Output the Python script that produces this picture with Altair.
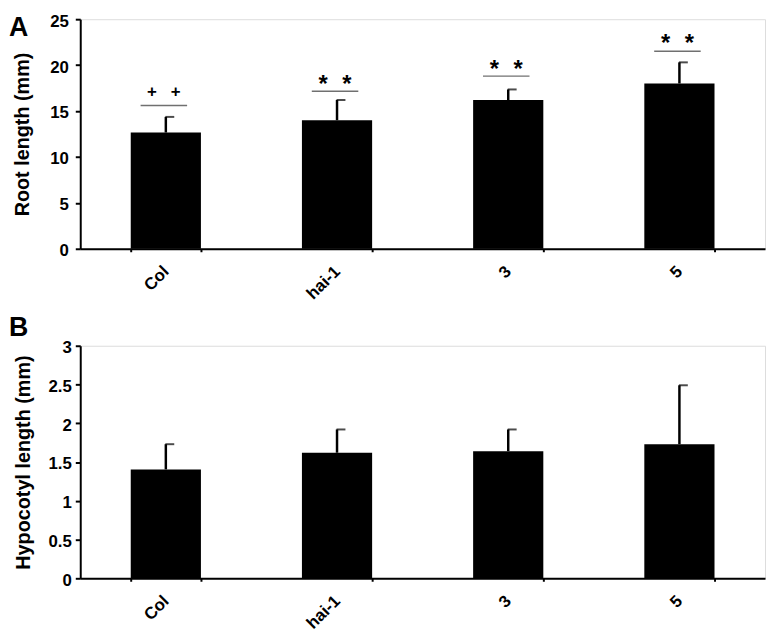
import altair as alt
import pandas as pd

# ---- data ----
categories = ["Col", "hai-1", "3", "5"]

root_mean = [12.66, 14.0, 16.2, 18.0]
root_err = [1.7, 2.2, 1.15, 2.3]
root_sig_line = [15.6, 17.15, 18.8, 21.5]
root_sig_mark = [17.05, 18.5, 20.1, 22.9]
root_sig_symbol = ["+", "*", "*", "*"]
root_ticks = [0, 5, 10, 15, 20, 25]

hypo_mean = [1.405, 1.62, 1.64, 1.73]
hypo_err = [0.325, 0.30, 0.28, 0.76]
hypo_ticks = [0, 0.5, 1, 1.5, 2, 2.5, 3]

panel_letters = ["A", "B"]

FONT = "Liberation Sans"

root_df = pd.DataFrame({
    "cat": categories,
    "mean": root_mean,
    "upper": [m + e for m, e in zip(root_mean, root_err)],
    "line": root_sig_line,
    "mark": root_sig_mark,
    "sym": root_sig_symbol,
})
hypo_df = pd.DataFrame({
    "cat": categories,
    "mean": hypo_mean,
    "upper": [m + e for m, e in zip(hypo_mean, hypo_err)],
})


def x_enc():
    return alt.X(
        "cat:N", sort=categories, title=None,
        scale=alt.Scale(paddingInner=0.59, paddingOuter=0.295),
        axis=alt.Axis(
            labelAngle=315, labelAlign="right", labelBaseline="middle",
            labelFont=FONT, labelFontSize=17, labelFontWeight="bold",
            labelColor="black", labelPadding=17,
            tickBand="extent", tickSize=3, tickWidth=2, tickColor="black",
            domainColor="black", domainWidth=2, grid=False,
        ),
    )


def y_enc(field, domain, ticks, title, title_pad, label_pad):
    return alt.Y(
        field, type="quantitative", title=title,
        scale=alt.Scale(domain=domain, nice=False, zero=True),
        axis=alt.Axis(
            values=ticks, format="~g", grid=False, labelOverlap=False,
            labelFont=FONT, labelFontSize=17, labelFontWeight="bold",
            labelColor="black", labelPadding=label_pad, labelOffset=2,
            tickSize=5, tickWidth=2, tickColor="black",
            domainColor="black", domainWidth=2,
            titleFont=FONT, titleFontSize=20, titleFontWeight="bold",
            titleColor="black", titlePadding=title_pad,
        ),
    )


def panel(df, domain, ticks, title, letter, letter_x, letter_y, height,
          title_pad, label_pad, with_sig):
    base = alt.Chart(df)

    def Y(field):
        return y_enc(field, domain, ticks, title, title_pad, label_pad)

    X = alt.X("cat:N", sort=categories)
    bars = base.mark_bar(color="black").encode(x=x_enc(), y=Y("mean"))
    stem = base.mark_rule(color="black", strokeWidth=2.5).encode(
        x=X, y=Y("mean"), y2="upper:Q")
    cap = base.mark_tick(color="black", size=9, thickness=2, xOffset=4).encode(
        x=X, y=Y("upper"))
    layers = [bars, stem, cap]
    if with_sig:
        line = base.mark_tick(color="#333333", size=47, thickness=1.5, xOffset=-2).encode(
            x=X, y=Y("line"))
        layers.append(line)
        for off in (-12, 12):
            plus = base.transform_filter(alt.datum.sym == "+").mark_text(
                font=FONT, fontSize=17, fontWeight="bold", color="black",
                baseline="middle", xOffset=off - 2).encode(
                x=X, y=Y("mark"), text="sym:N")
            star = base.transform_filter(alt.datum.sym == "*").mark_text(
                font=FONT, fontSize=24, fontWeight="bold", color="black",
                baseline="middle", xOffset=off - 2, dy=6).encode(
                x=X, y=Y("mark"), text="sym:N")
            layers += [plus, star]
    letter_mark = alt.Chart(pd.DataFrame({"letter": [letter]})).mark_text(
        font=FONT, fontSize=27, fontWeight="bold", color="black",
        align="left", baseline="alphabetic",
    ).encode(x=alt.value(letter_x), y=alt.value(letter_y), text="letter:N")
    layers.append(letter_mark)
    return alt.layer(*layers).properties(width=692, height=height)


top = panel(root_df, [0, 25], root_ticks, "Root length (mm)", panel_letters[0],
            -72, 17, 232, 17, 7, True)
bottom = panel(hypo_df, [0, 3], hypo_ticks, "Hypocotyl length (mm)", panel_letters[1],
               -72, -10, 235, 15, 4, False)

chart = alt.vconcat(top, bottom, spacing=10).properties(padding=0).configure_view(
    stroke=None).configure(background="white")

chart.save("out.html", embed_options={"renderer": "svg", "actions": False})
